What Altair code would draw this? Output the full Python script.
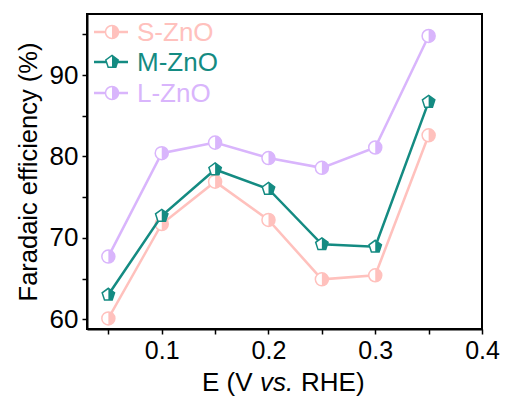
import altair as alt
import pandas as pd

potential = [0.05, 0.10, 0.15, 0.20, 0.25, 0.30, 0.35]
s_zno = [60.1, 71.7, 76.9, 72.2, 64.9, 65.4, 82.6]
m_zno = [63.0, 72.7, 78.4, 76.0, 69.2, 68.9, 86.7]
l_zno = [67.7, 80.4, 81.7, 79.8, 78.6, 81.1, 94.8]

series_names = ["S-ZnO", "M-ZnO", "L-ZnO"]
series_values = [s_zno, m_zno, l_zno]
colors = ["#FFC1BD", "#148B82", "#D9B5FC"]

x_ticks = [0.05, 0.10, 0.15, 0.20, 0.25, 0.30, 0.35, 0.40]
y_ticks = [60, 65, 70, 75, 80, 85, 90, 95]

FONT = "Liberation Sans"
W, H = 395, 315

circle_full = "circle"
circle_half = "M0,-1 A1,1 0 0,1 0,1 Z"
pent_full = "M0,-1 L0.951,-0.309 L0.588,0.809 L-0.588,0.809 L-0.951,-0.309 Z"
pent_half = "M0,-1 L0.951,-0.309 L0.588,0.809 L0,0.809 Z"
shapes = {"S-ZnO": (circle_full, circle_half),
          "M-ZnO": (pent_full, pent_half),
          "L-ZnO": (circle_full, circle_half)}

xscale = alt.Scale(domain=[0.03, 0.4], nice=False, zero=False)
yscale = alt.Scale(domain=[58.8, 97.5], nice=False, zero=False)

x_axis = alt.Axis(values=x_ticks, title=None,
                  labelExpr="round(datum.value*20) % 2 == 0 ? format(datum.value, '.1f') : ''",
                  labelFontSize=25, labelFont=FONT, labelColor="black",
                  labelPadding=4, tickSize=5, tickWidth=1.5, tickColor="black",
                  domainColor="black", domainWidth=2, grid=False, labelFlush=False)
y_axis = alt.Axis(values=y_ticks, title="Faradaic efficiency (%)",
                  labelExpr="datum.value % 10 == 0 ? format(datum.value, 'd') : ''",
                  labelFontSize=26, labelFont=FONT, labelColor="black",
                  labelPadding=4, tickSize=5, tickWidth=1.5, tickColor="black",
                  domainColor="black", domainWidth=2, grid=False,
                  titleFontSize=25.5, titleFont=FONT, titleFontWeight="normal",
                  titleColor="black", titlePadding=8)

layers = []
for i, (name, vals, col) in enumerate(zip(series_names, series_values, colors)):
    df = pd.DataFrame({"E": potential, "FE": vals, "series": name})
    base = alt.Chart(df)
    if i == 0:
        xenc = alt.X("E:Q", scale=xscale, axis=x_axis)
        yenc = alt.Y("FE:Q", scale=yscale, axis=y_axis)
    else:
        xenc = alt.X("E:Q", scale=xscale)
        yenc = alt.Y("FE:Q", scale=yscale)
    full, half = shapes[name]
    layers.append(base.mark_line(color=col, strokeWidth=2.5).encode(x=xenc, y=yenc))
    layers.append(base.mark_point(shape=full, size=170, filled=True, fill="white",
                                  stroke=col, strokeWidth=1.5, opacity=1)
                  .encode(x=xenc, y=yenc))
    layers.append(base.mark_point(shape=half, size=170, filled=True, fill=col,
                                  strokeWidth=0, opacity=1)
                  .encode(x=xenc, y=yenc))

# legend (drawn manually to show line + half-filled markers)
leg_rows = [18, 48, 79]
for name, col, ly in zip(series_names, colors, leg_rows):
    ldf = pd.DataFrame({"series": [name]})
    lb = alt.Chart(ldf)
    full, half = shapes[name]
    layers.append(lb.mark_rule(color=col, strokeWidth=2.5).encode(
        x=alt.value(7), x2=alt.value(41), y=alt.value(ly)))
    layers.append(lb.mark_point(shape=full, size=170, filled=True, fill="white",
                                stroke=col, strokeWidth=1.5, opacity=1).encode(
        x=alt.value(25), y=alt.value(ly)))
    layers.append(lb.mark_point(shape=half, size=170, filled=True, fill=col,
                                strokeWidth=0, opacity=1).encode(
        x=alt.value(25), y=alt.value(ly)))
    layers.append(lb.mark_text(align="left", baseline="middle", fontSize=26,
                               font=FONT, color=col, dy=1).encode(
        x=alt.value(50), y=alt.value(ly), text="series:N"))

# x-axis title with italic "vs."
title_parts = [("E (V", "normal", 115), ("vs.", "italic", 173), ("RHE)", "normal", 214)]
for txt, style, tx in title_parts:
    tdf = pd.DataFrame({"t": [txt]})
    layers.append(alt.Chart(tdf).mark_text(align="left", baseline="middle", fontSize=26,
                                           font=FONT, fontStyle=style, color="black").encode(
        x=alt.value(tx), y=alt.value(369), text="t:N"))

chart = alt.layer(*layers).properties(
    width=W, height=H,
    background="white",
    autosize=alt.AutoSizeParams(type="none"),
    padding={"left": 87, "top": 14, "right": 24, "bottom": 71},
).configure_view(stroke="black", strokeWidth=2)

chart.save("out.html", embed_options={"renderer": "svg", "actions": False})
